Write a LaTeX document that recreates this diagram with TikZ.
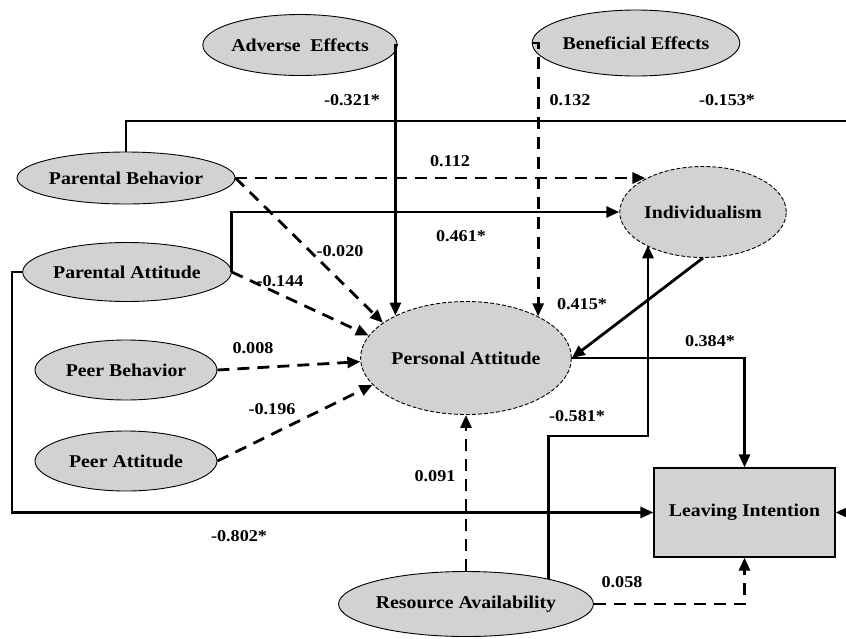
\documentclass[tikz,border=0pt]{standalone}
\usepackage{fontspec}
\setmainfont{Liberation Serif}[FakeStretch=1.1]
\usetikzlibrary{shapes.geometric,arrows.meta}
\definecolor{nodefill}{RGB}{210,210,212}
\begin{document}
\begin{tikzpicture}[x=1pt,y=-1pt,
  lat/.style={ellipse, draw=black, line width=0.9pt, fill=nodefill, inner sep=0pt, font=\fontsize{18}{20}\selectfont\bfseries},
  latd/.style={lat, dash pattern=on 4pt off 2pt},
  conn/.style={line width=2.8pt, -{Triangle[length=13pt,width=11pt]}},
  dconn/.style={conn, dash pattern=on 12pt off 8pt},
  coef/.style={font=\fontsize{16.5}{18}\selectfont\bfseries, inner sep=0pt},
]
\clip (0,0) rectangle (846,638);
\fill[white] (0,0) rectangle (846,638);

% nodes
\node[lat, minimum width=181pt, minimum height=61pt] (ae) at (300,45) {Adverse~~Effects};
\node[lat, minimum width=190pt, minimum height=66pt] (be) at (636,43) {Beneficial Effects};
\node[lat, minimum width=182pt, minimum height=52pt] (pb) at (126,178) {Parental Behavior};
\node[lat, minimum width=183pt, minimum height=59pt] (patt) at (127,272) {Parental Attitude};
\node[lat, minimum width=182pt, minimum height=60pt] (pbeh) at (126,370) {Peer Behavior};
\node[lat, minimum width=182pt, minimum height=60pt] (pat) at (126,461) {Peer Attitude};
\node[latd, minimum width=196pt, minimum height=113pt] (pa) at (466,358) {Personal Attitude};
\node[latd, minimum width=158pt, minimum height=91pt] (ind) at (703,212) {Individualism};
\node[draw=black, line width=1.2pt, fill=nodefill, minimum width=181pt, minimum height=89pt, inner sep=0pt, font=\fontsize{18}{20}\selectfont\bfseries] (li) at (744.5,512.5) {Leaving Intention};
\node[lat, minimum width=211pt, minimum height=65pt] (ra) at (466,604) {Resource Availability};

% bend points
\coordinate (tr) at (860,121);
\coordinate (bl) at (12,512.5);
\coordinate (rb) at (648,436);

% connectors
\draw[conn] (pb.north) |- (tr) |- (li.east);
\draw[conn] (patt.west) -| (bl) -- (li.west);
\draw[conn] (patt.east) |- (ind.west);
\draw[conn] (ae.east) -| (pa.149.3);
\draw[dconn] (be.west) -| (pa.30.7);
\draw[dconn] (pb.east) -- (pb.east -| ind.150);
\draw[dconn] (pb.east) -- (pa.157);
\draw[dconn] (patt.east) -- (pa.167.6);
\draw[dconn] (pbeh.east) -- (pa.182);
\draw[dconn] (pat.east) -- (pa.196.5);
\draw[conn] (ind.south) -- (pa.east);
\draw[conn] (pa.east) -| (li.north);
\draw[conn] (ra.17.4) |- (rb) -- (rb |- ind.210.7);
\draw[dconn] (ra.north) -- (pa.south);
\draw[dconn] (ra.east) -| (li.south);

% coefficients
\node[coef] (c1) at (352,100) {-0.321*};
\node[coef] (c2) at (727,100) {-0.153*};
\node[coef] (c3) at (570,100) {0.132};
\node[coef] (c4) at (450,161) {0.112};
\node[coef] (c5) at (340,251) {-0.020};
\node[coef] (c6) at (461,236) {0.461*};
\node[coef] (c7) at (280,281) {-0.144};
\node[coef] (c8) at (253,348) {0.008};
\node[coef] (c9) at (272,409) {-0.196};
\node[coef] (c10) at (582,304) {0.415*};
\node[coef] (c11) at (710,341) {0.384*};
\node[coef] (c12) at (577,416) {-0.581*};
\node[coef] (c13) at (435,476) {0.091};
\node[coef] (c14) at (239,536) {-0.802*};
\node[coef] (c15) at (622,582) {0.058};
\end{tikzpicture}
\end{document}
